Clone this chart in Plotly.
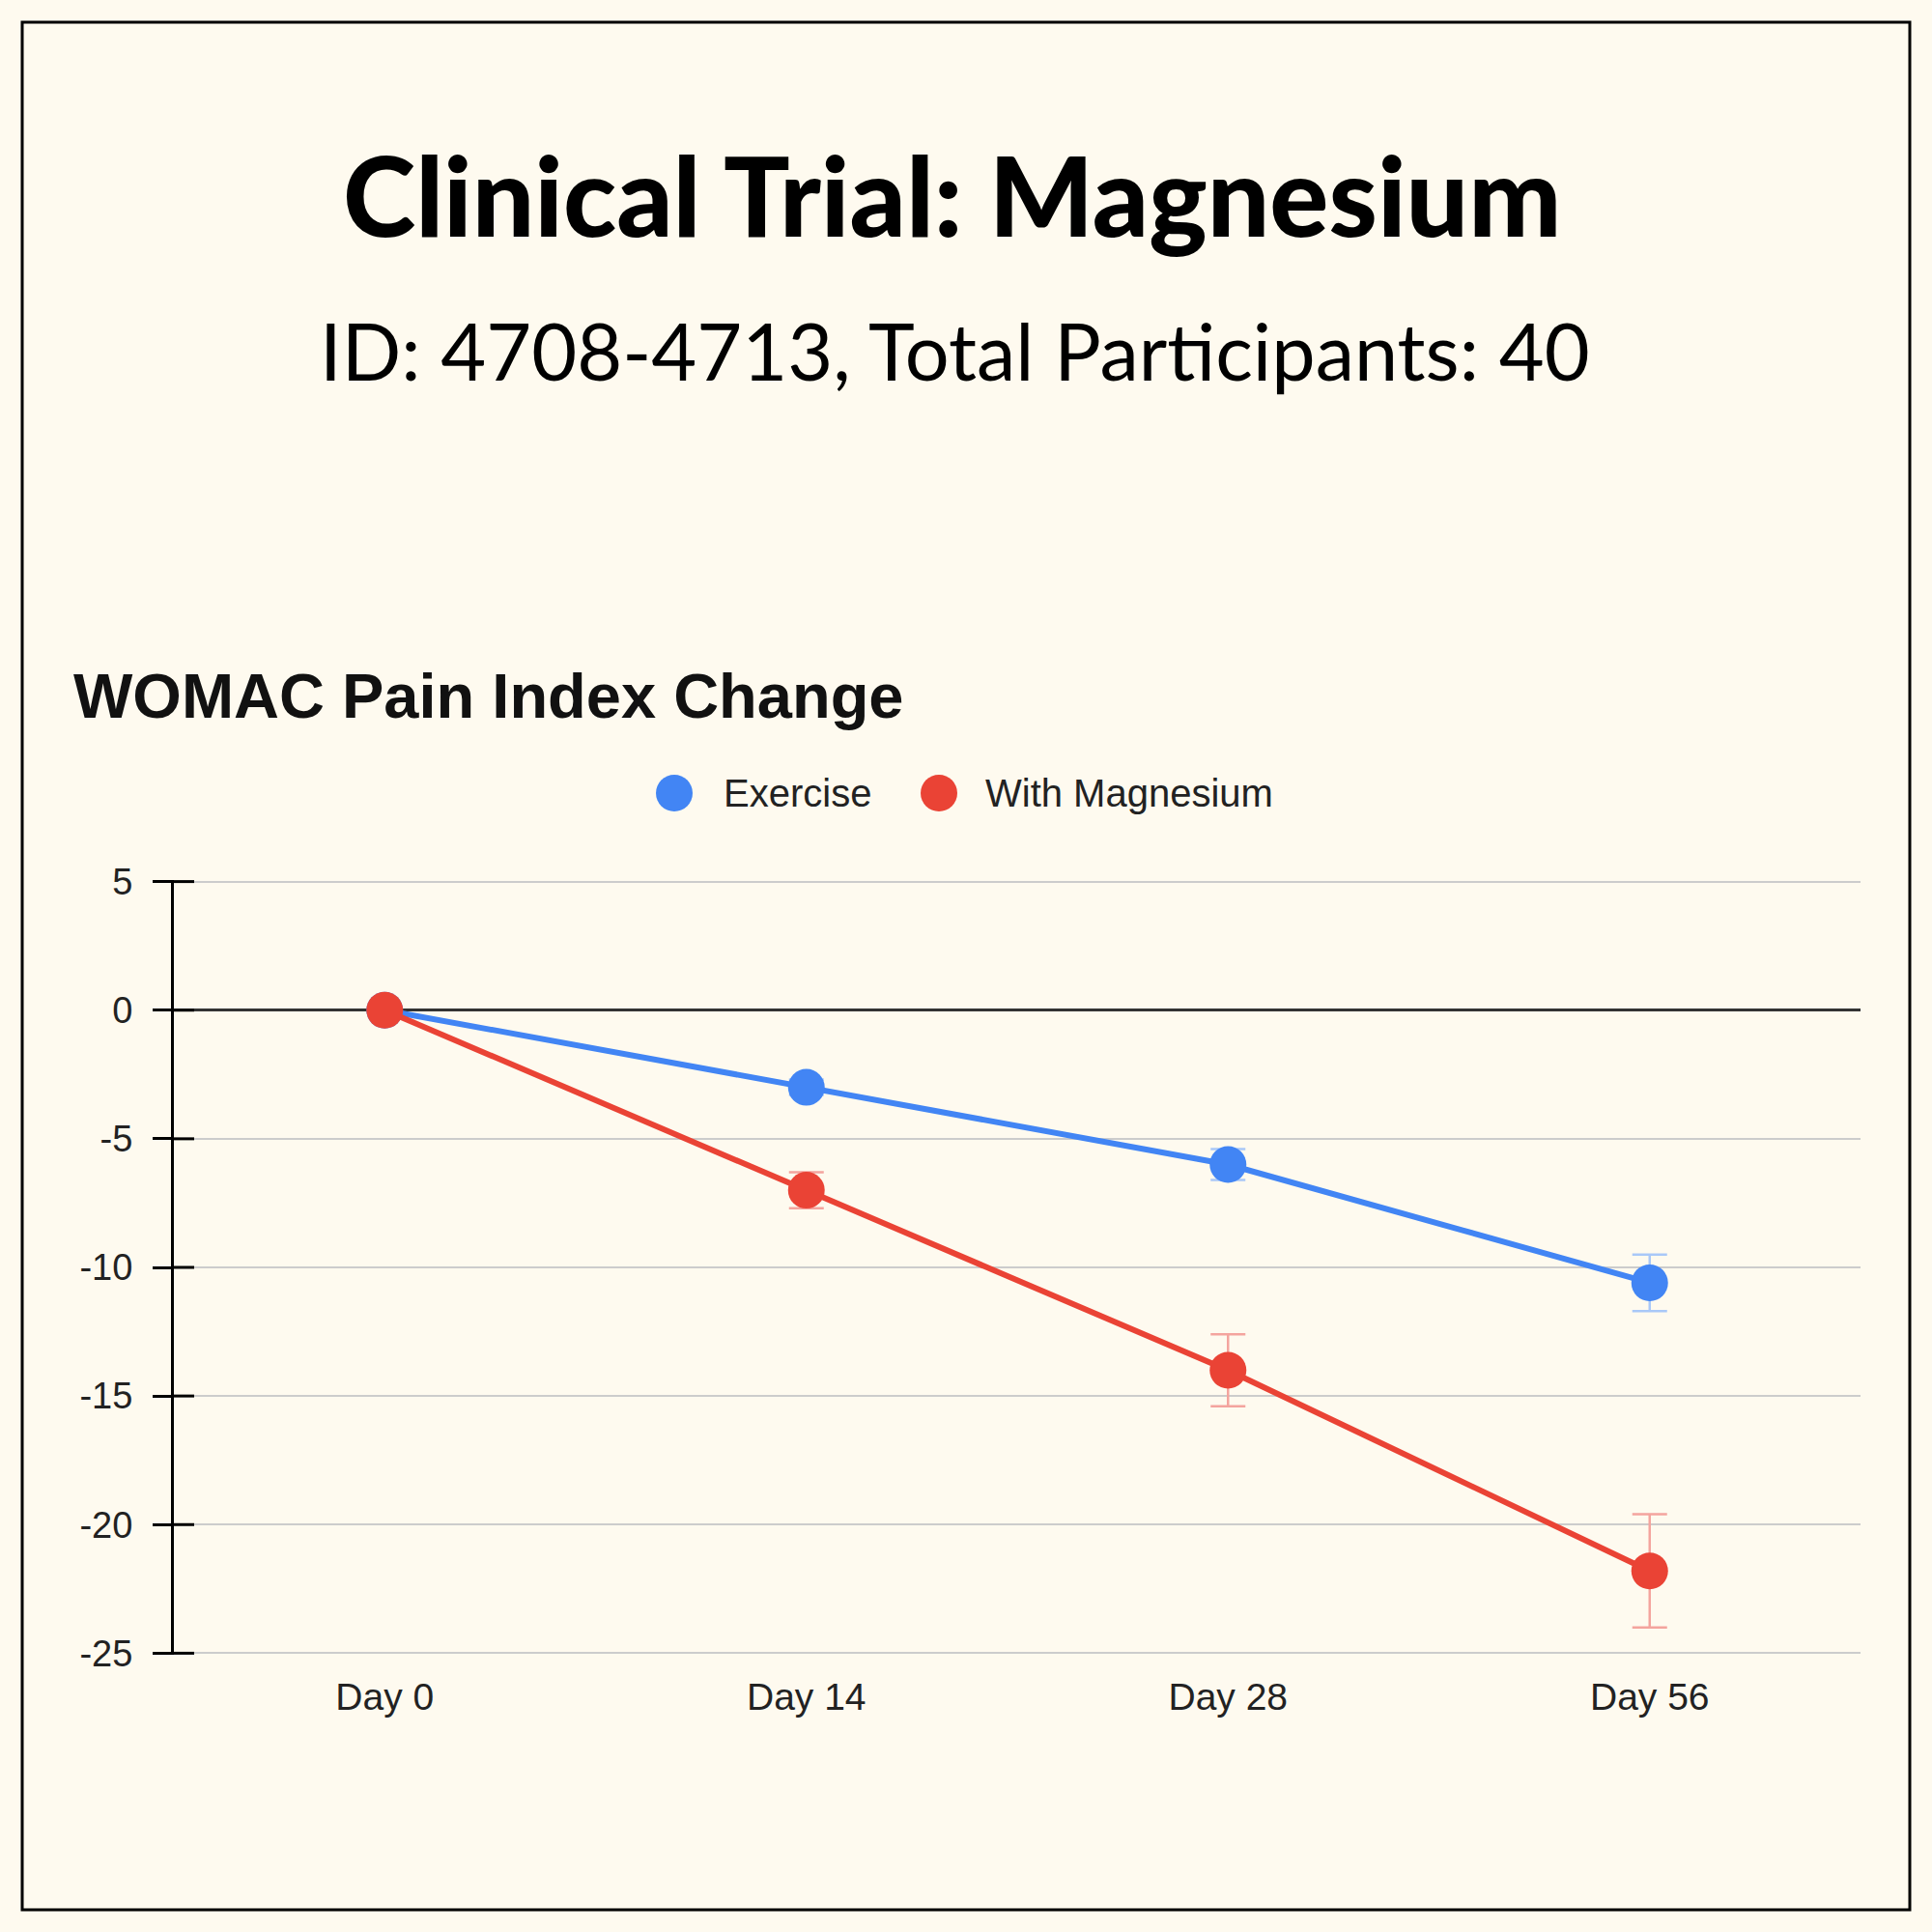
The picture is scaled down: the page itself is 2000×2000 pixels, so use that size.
import plotly.graph_objects as go

# ---- data ----
days = ["Day 0", "Day 14", "Day 28", "Day 56"]
exercise = [0, -3, -6, -10.6]
exercise_err = [0, 0.3, 0.6, 1.1]
magnesium = [0, -7, -14, -21.8]
magnesium_err = [0, 0.7, 1.4, 2.2]
series_names = ["Exercise", "With Magnesium"]
y_ticks = [5, 0, -5, -10, -15, -20, -25]

main_title = "Clinical Trial: Magnesium"
sub_title = "ID: 4708-4713, Total Participants: 40"
chart_title = "WOMAC Pain Index Change"

BLUE = "#4285F4"
RED = "#EA4335"
BG = "#FEFAEF"

W, H = 2000, 2000
L, R, T, B = 180, 74, 911, 287
PW, PH = W - L - R, H - T - B


def px(X):
    return (X - L) / PW


def py(Y):
    return (H - B - Y) / PH


fig = go.Figure()

fig.add_trace(go.Scatter(
    x=days, y=exercise, name=series_names[0], mode="lines+markers",
    line=dict(color=BLUE, width=6), marker=dict(color=BLUE, size=38),
    error_y=dict(type="data", array=exercise_err, color="#A9C8F8", thickness=2.5, width=18),
    showlegend=False,
))
fig.add_trace(go.Scatter(
    x=days, y=magnesium, name=series_names[1], mode="lines+markers",
    line=dict(color=RED, width=6), marker=dict(color=RED, size=38),
    error_y=dict(type="data", array=magnesium_err, color="#F4A49E", thickness=2.5, width=18),
    showlegend=False,
))

shapes = [
    dict(type="rect", xref="paper", yref="paper",
         x0=px(23), x1=px(1977), y0=py(23), y1=py(1977),
         line=dict(color="black", width=3), fillcolor="rgba(0,0,0,0)", layer="above"),
]
# inner half of the crossing y-axis tick marks
for v in y_ticks:
    shapes.append(dict(type="line", xref="paper", yref="y", x0=px(179), x1=px(201),
                       y0=v, y1=v, line=dict(color="black", width=3), layer="above"))

# manual legend
legend_items = [(series_names[0], BLUE, 698, 747), (series_names[1], RED, 972, 1018)]
annotations = []
for name, col, cx, tx in legend_items:
    r = 19
    shapes.append(dict(type="circle", xref="paper", yref="paper",
                       x0=px(cx - r), x1=px(cx + r), y0=py(821 - r), y1=py(821 + r),
                       fillcolor=col, line=dict(width=0)))
    annotations.append(dict(text=name, xref="paper", yref="paper", x=px(tx), y=py(821),
                            xanchor="left", yanchor="middle", showarrow=False,
                            font=dict(family="Liberation Sans, Arial", size=40, color="#222222")))

annotations += [
    dict(text=main_title, xref="paper", yref="paper", x=px(985), y=py(200),
         xanchor="center", yanchor="middle", showarrow=False,
         font=dict(family="Lato", size=114, color="black", weight=900)),
    dict(text=sub_title, xref="paper", yref="paper", x=px(988), y=py(363),
         xanchor="center", yanchor="middle", showarrow=False,
         font=dict(family="Lato", size=81, color="black")),
    dict(text=f"<b>{chart_title}</b>", xref="paper", yref="paper", x=px(74), y=py(720),
         xanchor="left", yanchor="middle", showarrow=False,
         font=dict(family="Liberation Sans, Arial", size=65, color="#111111")),
]

fig.update_layout(
    width=W, height=H,
    margin=dict(l=L, r=R, t=T, b=B),
    paper_bgcolor=BG, plot_bgcolor=BG,
    shapes=shapes, annotations=annotations,
    xaxis=dict(type="category", range=[-0.5, 3.5], showgrid=False, showline=False,
               zeroline=False, ticks="", ticklabelstandoff=17,
               tickfont=dict(family="Liberation Sans, Arial", size=39, color="#222222")),
    yaxis=dict(range=[-25.06, 5.06], tickvals=y_ticks, ticktext=[str(v) for v in y_ticks],
               showgrid=True, gridcolor="#CCCCCC", gridwidth=2,
               zeroline=True, zerolinecolor="#333333", zerolinewidth=2.5,
               showline=True, linecolor="black", linewidth=3,
               ticks="outside", ticklen=19, tickwidth=3, tickcolor="black",
               ticklabelstandoff=13,
               tickfont=dict(family="Liberation Sans, Arial", size=38, color="#222222")),
    showlegend=False,
)

fig.write_html(
    "out.html",
    config={"displayModeBar": False},
    post_script="document.body.style.margin='0';document.body.style.background='%s';" % BG,
)
